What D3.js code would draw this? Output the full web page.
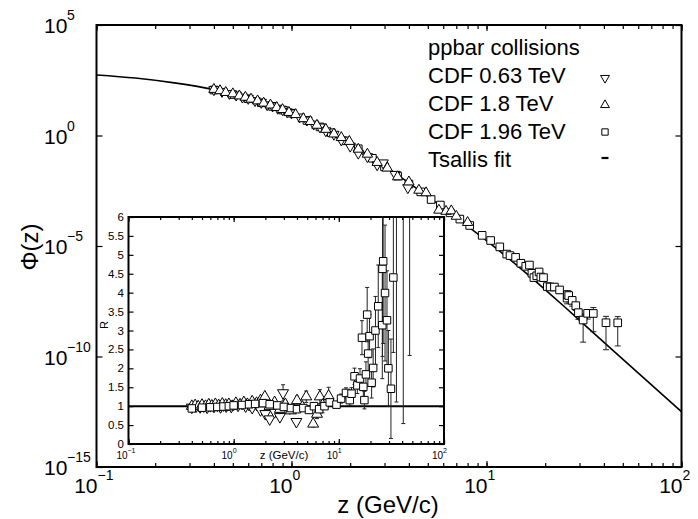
<!DOCTYPE html>
<html>
<head>
<meta charset="utf-8">
<script src="https://cdn.jsdelivr.net/npm/d3@7"></script>
<style>
  body { margin: 0; background: #fff; }
  text { font-family: "Liberation Sans", Arial, sans-serif; fill: #000; }
</style>
</head>
<body>
<div id="chart"></div>
<script>
// Tsallis fit curve (z in GeV/c, log10 of Phi)
const fitZ = [0.1, 0.158, 0.251, 0.398, 0.631, 1, 1.585, 2.512, 3.981, 6.31, 10, 15.85, 25.12, 31.62, 50.1, 100];
const fitLogPhi = [2.74, 2.60, 2.38, 2.08, 1.62, 1.00, 0.14, -0.92, -2.13, -3.42, -4.76, -6.2, -7.75, -8.55, -10.13, -12.5];

// CDF 0.63 TeV (down triangles)
const z063 = [0.40, 0.44, 0.48, 0.52, 0.56, 0.60, 0.65, 0.70, 0.75, 0.80, 0.85, 0.90, 0.95, 1.00, 1.10,
  1.20, 1.30, 1.40, 1.50, 1.65, 1.80, 2.00, 2.20, 2.45, 2.75, 2.95, 3.40, 3.95];
const logPhi063 = [2.073, 1.995, 1.903, 1.83, 1.737, 1.679, 1.578, 1.499, 1.391, 1.333, 1.234, 1.169, 1.069, 1.021, 0.837,
  0.697, 0.516, 0.385, 0.212, 0.056, -0.201, -0.483, -0.80, -0.957, -1.327, -1.24, -1.758, -2.361];
const ratio063 = [0.97, 1.0, 0.98, 1.0, 0.97, 1.01, 0.99, 1.02, 0.98, 1.03, 1.0, 1.04, 0.99, 1.05, 1.02,
  1.07, 1.0, 1.04, 0.96, 1.05, 0.9, 0.8, 0.66, 0.85, 0.72, 1.35, 0.95, 0.59];
const relErr063 = [0.03, 0.03, 0.03, 0.03, 0.03, 0.03, 0.03, 0.03, 0.03, 0.03, 0.03, 0.03, 0.03, 0.04, 0.04,
  0.04, 0.04, 0.05, 0.05, 0.05, 0.06, 0.07, 0.08, 0.08, 0.1, 0.16, 0.1, 0.12];

// CDF 1.8 TeV (up triangles)
const z18 = [0.40, 0.43, 0.46, 0.50, 0.54, 0.58, 0.62, 0.67, 0.72, 0.78, 0.84, 0.90, 0.97, 1.05, 1.15,
  1.25, 1.35, 1.50, 1.65, 1.80, 1.98, 2.20, 2.45, 2.75, 3.10, 3.50, 4.00, 4.50, 4.90, 5.70,
  6.20, 6.60, 7.00, 8.00];
const logPhi18 = [2.086, 2.026, 1.947, 1.885, 1.79, 1.729, 1.644, 1.566, 1.464, 1.378, 1.264, 1.173, 1.043, 0.945, 0.761,
  0.634, 0.463, 0.279, 0.068, -0.094, -0.268, -0.62, -0.846, -1.22, -1.475, -1.87, -2.101, -2.477, -2.593, -3.379,
  -3.432, -3.411, -3.655, -3.936];
const ratio18 = [1.0, 1.02, 0.99, 1.03, 1.0, 1.04, 1.01, 1.05, 1.02, 1.06, 1.03, 1.05, 1.0, 1.08, 1.04,
  1.1, 1.05, 1.12, 1.08, 1.15, 1.25, 1.0, 1.1, 0.92, 1.05, 0.88, 1.15, 0.98, 1.25, 0.53,
  0.79, 1.25, 1.03, 1.27];
const relErr18 = [0.03, 0.03, 0.03, 0.03, 0.03, 0.03, 0.03, 0.03, 0.03, 0.03, 0.03, 0.03, 0.03, 0.04, 0.04,
  0.04, 0.04, 0.05, 0.05, 0.05, 0.06, 0.06, 0.07, 0.07, 0.08, 0.08, 0.1, 0.1, 0.12, 0.15,
  0.15, 0.15, 0.2, 0.18];

// CDF 1.96 TeV (squares)
const z196 = [0.40, 0.50, 0.60, 0.70, 0.80, 0.90, 1.00, 1.20, 1.40, 1.60, 1.90, 2.20, 2.60, 3.00, 3.50,
  4.00, 4.60, 5.20, 5.80, 6.50, 7.30, 8.20, 9.50, 10.5, 11.7, 12.7, 13.2, 14.1, 15.0, 15.9,
  16.6, 17.1, 17.5, 18.1, 18.6, 19.0, 19.6, 20.5, 21.2, 22.3, 23.7, 25.9, 26.0, 26.4, 27.5,
  28.7, 29.6, 31.3, 33.0, 35.3, 41.0, 47.1];
const logPhi196 = [2.059, 1.854, 1.662, 1.481, 1.316, 1.152, 1.009, 0.681, 0.389, 0.125, -0.242, -0.599, -1.031, -1.421, -1.836,
  -2.198, -2.55, -2.897, -3.147, -3.499, -3.783, -4.071, -4.518, -4.752, -5.04, -5.366, -5.434, -5.515, -5.78, -5.92,
  -5.861, -6.235, -6.43, -6.349, -6.176, -6.404, -6.431, -6.836, -6.855, -6.857, -6.989, -7.357, -7.204, -7.242, -7.461,
  -7.699, -8.017, -8.35, -8.047, -8.053, -8.472, -8.476];
const ratio196 = [0.94, 0.96, 0.97, 0.98, 0.99, 1.0, 1.02, 1.03, 1.05, 1.06, 1.08, 1.05, 1.02, 0.98, 0.95,
  0.92, 0.95, 0.9, 1.0, 0.92, 1.0, 1.1, 1.04, 1.2, 1.35, 1.16, 1.33, 1.79, 1.55, 1.73,
  2.81, 1.51, 1.16, 1.84, 3.42, 2.39, 2.85, 1.62, 2.01, 3.0, 3.64, 3.14, 4.63, 4.83, 3.99,
  3.27, 2.0, 1.46, 4.4, 7.4, 9.0, 26];
const relErr196 = [0.03, 0.03, 0.03, 0.03, 0.03, 0.03, 0.03, 0.03, 0.03, 0.03, 0.03, 0.03, 0.03, 0.04, 0.04,
  0.04, 0.05, 0.05, 0.05, 0.06, 0.06, 0.07, 0.07, 0.1, 0.1, 0.12, 0.12, 0.12, 0.14, 0.15,
  0.16, 0.18, 0.2, 0.18, 0.21, 0.2, 0.2, 0.25, 0.25, 0.3, 0.3, 0.45, 0.5, 0.45, 0.45,
  0.4, 0.5, 0.9, 0.45, 0.85, 0.94, 0.91];

const legendLabels = ["ppbar collisions", "CDF 0.63 TeV", "CDF 1.8 TeV", "CDF 1.96 TeV", "Tsallis fit"];
const mainYTicks = [1e-15, 1e-10, 1e-5, 1, 1e5];
const mainYExp = ["\u221215", "\u221210", "\u22125", "0", "5"];
const decadeTicks = [0.1, 1, 10, 100];
const decadeExp = ["\u22121", "0", "1", "2"];
const insetYTicks = [0, 0.5, 1, 1.5, 2, 2.5, 3, 3.5, 4, 4.5, 5, 5.5, 6];

const width = 698, height = 519;
const svg = d3.select("#chart").append("svg")
  .attr("width", width).attr("height", height);

// main plot box
const m = { left: 96.5, right: 681.5, top: 25, bottom: 467 };
const x = d3.scaleLog().domain([0.1, 100]).range([m.left, m.right]);
const y = d3.scaleLog().domain([1e-15, 1e5]).range([m.bottom, m.top]);

// log minor ticks 1..9 per decade
const minorTicks = [];
[0.1, 1, 10].forEach(d => { for (let k = 1; k <= 9; k++) minorTicks.push(d * k); });
minorTicks.push(100);

svg.append("defs").append("clipPath").attr("id", "clipMain")
  .append("rect").attr("x", m.left).attr("y", m.top)
  .attr("width", m.right - m.left).attr("height", m.bottom - m.top);

function drawAxes(g, xs, ys, box, yTicks, minorLen, majorLen) {
  g.append("g").attr("transform", `translate(0,${box.bottom})`)
    .call(d3.axisBottom(xs).tickValues(minorTicks).tickSize(-minorLen).tickFormat(""))
    .call(a => a.select(".domain").remove());
  g.append("g").attr("transform", `translate(0,${box.bottom})`)
    .call(d3.axisBottom(xs).tickValues(decadeTicks).tickSize(-majorLen).tickFormat(""))
    .call(a => a.select(".domain").remove());
  g.append("g").attr("transform", `translate(0,${box.top})`)
    .call(d3.axisTop(xs).tickValues(minorTicks).tickSize(-minorLen).tickFormat(""))
    .call(a => a.select(".domain").remove());
  g.append("g").attr("transform", `translate(0,${box.top})`)
    .call(d3.axisTop(xs).tickValues(decadeTicks).tickSize(-majorLen).tickFormat(""))
    .call(a => a.select(".domain").remove());
  g.append("g").attr("transform", `translate(${box.left},0)`)
    .call(d3.axisLeft(ys).tickValues(yTicks).tickSize(-majorLen).tickFormat(""))
    .call(a => a.select(".domain").remove());
  g.append("g").attr("transform", `translate(${box.right},0)`)
    .call(d3.axisRight(ys).tickValues(yTicks).tickSize(-majorLen).tickFormat(""))
    .call(a => a.select(".domain").remove());
  g.selectAll(".tick line").attr("stroke", "#000").attr("stroke-width", 1.2);
  g.append("rect")
    .attr("x", box.left).attr("y", box.top)
    .attr("width", box.right - box.left).attr("height", box.bottom - box.top)
    .attr("fill", "none").attr("stroke", "#000").attr("stroke-width", 2);
}

const mainG = svg.append("g");
drawAxes(mainG, x, y, m, mainYTicks, 4, 6);

// main tick labels (10 with exponent)
mainYTicks.forEach((t, i) => {
  const yy = y(t) + 8;
  mainG.append("text").attr("x", 44).attr("y", yy).attr("font-size", 21).text("10");
  mainG.append("text").attr("x", 67).attr("y", yy - 13).attr("font-size", 14).text(mainYExp[i]);
});
decadeTicks.forEach((t, i) => {
  const xx = x(t);
  mainG.append("text").attr("x", xx + 1).attr("y", 493).attr("text-anchor", "end").attr("font-size", 21).text("10");
  mainG.append("text").attr("x", xx + 1).attr("y", 480).attr("font-size", 14).text(decadeExp[i]);
});

mainG.append("text").attr("x", 388).attr("y", 513).attr("text-anchor", "middle")
  .attr("font-size", 24).text("z (GeV/c)");
mainG.append("text").attr("transform", "translate(38,247) rotate(-90)")
  .attr("text-anchor", "middle").attr("font-size", 24).text("\u03A6(z)");

// fit curve
const fitData = fitZ.map((z, i) => ({ z: z, phi: Math.pow(10, fitLogPhi[i]) }));
const fitLine = d3.line().x(d => x(d.z)).y(d => y(d.phi)).curve(d3.curveMonotoneX);
const plotG = mainG.append("g").attr("clip-path", "url(#clipMain)");
plotG.append("path").datum(fitData).attr("d", fitLine)
  .attr("fill", "none").attr("stroke", "#000").attr("stroke-width", 1.6);

function makeSet(zs, logPhis, ratios, rels) {
  return zs.map((z, i) => ({ z: z, phi: Math.pow(10, logPhis[i]), r: ratios[i], rel: rels[i] }));
}
const set063 = makeSet(z063, logPhi063, ratio063, relErr063);
const set18 = makeSet(z18, logPhi18, ratio18, relErr18);
const set196 = makeSet(z196, logPhi196, ratio196, relErr196);

const triMain = d3.symbol().type(d3.symbolTriangle).size(46)();
const sqMain = d3.symbol().type(d3.symbolSquare).size(58)();
const triInset = d3.symbol().type(d3.symbolTriangle).size(52)();
const sqInset = d3.symbol().type(d3.symbolSquare).size(56)();
const triLegend = d3.symbol().type(d3.symbolTriangle).size(34)();
const sqLegend = d3.symbol().type(d3.symbolSquare).size(40)();

function drawErrors(g, data, xf, yTop, yBot, cap) {
  const eg = g.append("g").attr("stroke", "#222").attr("stroke-width", 1);
  data.forEach(d => {
    const xx = xf(d), y1 = yTop(d), y2 = yBot(d);
    eg.append("line").attr("x1", xx).attr("x2", xx).attr("y1", y1).attr("y2", y2);
    eg.append("line").attr("x1", xx - cap).attr("x2", xx + cap).attr("y1", y1).attr("y2", y1);
    eg.append("line").attr("x1", xx - cap).attr("x2", xx + cap).attr("y1", y2).attr("y2", y2);
  });
}
function drawMarkers(g, data, xf, yf, path, rot) {
  g.append("g").selectAll("path").data(data).join("path")
    .attr("d", path)
    .attr("transform", d => `translate(${xf(d)},${yf(d)})` + (rot ? " rotate(180)" : ""))
    .attr("fill", "#fff").attr("stroke", "#000").attr("stroke-width", 1);
}

// main data
const mx = d => x(d.z), my = d => y(d.phi);
const myTop = d => y(d.phi * (1 + d.rel));
const myBot = d => y(d.phi * Math.max(0.01, 1 - d.rel));
[set196, set18, set063].forEach(s => drawErrors(plotG, s, mx, myTop, myBot, 3));
drawMarkers(plotG, set196, mx, my, sqMain, false);
drawMarkers(plotG, set063, mx, my, triMain, true);
drawMarkers(plotG, set18, mx, my, triMain, false);

// legend
const lg = svg.append("g");
legendLabels.forEach((t, i) => {
  lg.append("text").attr("x", 428).attr("y", 55 + i * 28).attr("font-size", 22).text(t);
});
lg.append("path").attr("d", triLegend).attr("transform", "translate(605,78) rotate(180)")
  .attr("fill", "#fff").attr("stroke", "#000");
lg.append("path").attr("d", triLegend).attr("transform", "translate(605,105)")
  .attr("fill", "#fff").attr("stroke", "#000");
lg.append("path").attr("d", sqLegend).attr("transform", "translate(605,132)")
  .attr("fill", "#fff").attr("stroke", "#000");
lg.append("line").attr("x1", 601.5).attr("x2", 608.5).attr("y1", 158).attr("y2", 158)
  .attr("stroke", "#000").attr("stroke-width", 2.2);

// inset: ratio R = data / fit
const ib = { left: 128.5, right: 444, top: 217, bottom: 444 };
const xi = d3.scaleLog().domain([0.1, 100]).range([ib.left, ib.right]);
const yi = d3.scaleLinear().domain([0, 6]).range([ib.bottom, ib.top]);

const insetG = svg.append("g");
insetG.append("rect").attr("x", ib.left).attr("y", ib.top)
  .attr("width", ib.right - ib.left).attr("height", ib.bottom - ib.top).attr("fill", "#fff");
svg.select("defs").append("clipPath").attr("id", "clipInset")
  .append("rect").attr("x", ib.left).attr("y", ib.top)
  .attr("width", ib.right - ib.left).attr("height", ib.bottom - ib.top);

const inPlot = insetG.append("g").attr("clip-path", "url(#clipInset)");
inPlot.append("line").attr("x1", ib.left).attr("x2", ib.right)
  .attr("y1", yi(1)).attr("y2", yi(1)).attr("stroke", "#000").attr("stroke-width", 2);

const ix = d => xi(d.z), iy = d => yi(d.r);
const iyTop = d => yi(d.r * (1 + d.rel));
const iyBot = d => yi(d.r * (1 - d.rel));
[set196, set18, set063].forEach(s => drawErrors(inPlot, s, ix, iyTop, iyBot, 2));
drawMarkers(inPlot, set063, ix, iy, triInset, true);
drawMarkers(inPlot, set18, ix, iy, triInset, false);
drawMarkers(inPlot, set196, ix, iy, sqInset, false);

drawAxes(insetG, xi, yi, ib, insetYTicks, 3, 5);

insetYTicks.forEach(t => {
  insetG.append("text").attr("x", 124).attr("y", yi(t)).attr("dy", "0.35em")
    .attr("text-anchor", "end").attr("font-size", 11.5).text(String(t));
});
decadeTicks.forEach((t, i) => {
  const xx = xi(t);
  insetG.append("text").attr("x", xx - 1).attr("y", 459).attr("text-anchor", "end")
    .attr("font-size", 10).text("10");
  insetG.append("text").attr("x", xx - 1).attr("y", 453).attr("font-size", 7).text(decadeExp[i]);
});
insetG.append("text").attr("x", 284).attr("y", 459).attr("text-anchor", "middle")
  .attr("font-size", 11.5).text("z (GeV/c)");
insetG.append("text").attr("transform", "translate(108,325) rotate(-90)")
  .attr("text-anchor", "middle").attr("font-size", 11).text("R");
</script>
</body>
</html>
